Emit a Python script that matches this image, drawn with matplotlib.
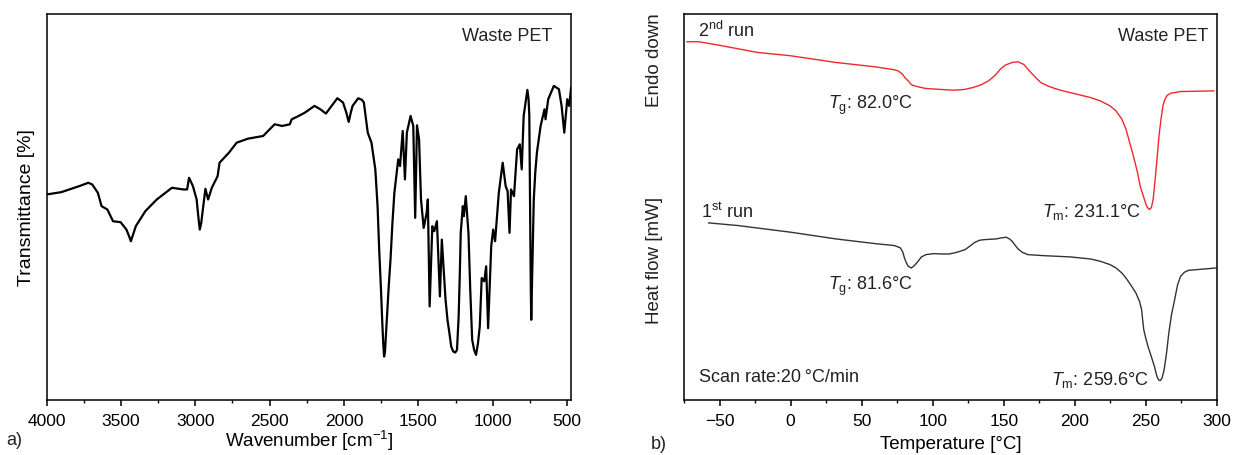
#!/usr/bin/env python3
'''FTIR spectrum and DSC thermograms of waste PET'''
import matplotlib
matplotlib.use("Agg")
import matplotlib.pyplot as plt
from matplotlib.ticker import MultipleLocator, NullLocator

plt.rcParams['font.family'] = ['Liberation Sans', 'DejaVu Sans']
plt.rcParams['mathtext.fontset'] = 'custom'
plt.rcParams['mathtext.rm'] = 'Liberation Sans'
plt.rcParams['mathtext.it'] = 'Liberation Sans:italic'
plt.rcParams['font.size'] = 12.5
plt.rcParams['axes.linewidth'] = 1.1
plt.rcParams['text.color'] = '#222222'

# FTIR spectrum (wavenumber in cm-1, transmittance in arbitrary %)
ftir_wn = [4000, 3900, 3847, 3780, 3719, 3693, 3655, 3630, 3591, 3553, 3502, 3463,
           3445, 3433, 3415, 3400, 3336, 3259, 3157, 3080, 3055, 3042, 3016, 2991,
           2980, 2970, 2960, 2952, 2932, 2914, 2889, 2850, 2837, 2774, 2722, 2646,
           2544, 2467, 2416, 2365, 2352, 2314, 2263, 2199, 2160, 2122, 2084, 2045,
           2007, 1985, 1969, 1955, 1943, 1905, 1880, 1867, 1841, 1816, 1790, 1775,
           1764, 1752, 1744, 1737, 1731, 1725, 1713, 1700, 1688, 1675, 1662, 1636,
           1624, 1606, 1591, 1578, 1553, 1535, 1522, 1510, 1496, 1483, 1465, 1445,
           1437, 1425, 1407, 1394, 1376, 1356, 1343, 1318, 1305, 1292, 1280, 1266,
           1253, 1241, 1230, 1222, 1216, 1202, 1195, 1182, 1164, 1152, 1139, 1126,
           1113, 1100, 1088, 1075, 1058, 1045, 1032, 1011, 998, 985, 960, 934,
           914, 901, 888, 878, 858, 837, 819, 806, 793, 768, 760, 755, 750,
           745, 742, 737, 730, 725, 715, 704, 679, 653, 646, 628, 590,
           556, 538, 520, 500, 487, 474]
ftir_pix = [585, 578, 570, 560, 550, 555, 580, 620, 630, 665, 668, 690,
            710, 725, 700, 680, 635, 600, 565, 570, 570, 535, 560, 600,
            650, 690, 670, 640, 568, 600, 565, 530, 490, 460, 430, 418,
            410, 375, 380, 375, 360, 352, 340, 320, 330, 343, 320, 297,
            310, 340, 368, 340, 320, 297, 302, 310, 400, 430, 510, 620,
            750, 870, 960, 1030, 1070, 1055, 960, 860, 780, 670, 580, 480,
            500, 395, 540, 400, 350, 380, 655, 378, 420, 600, 685, 640,
            600, 920, 680, 695, 665, 890, 720, 900, 960, 1000, 1040, 1055,
            1058, 1050, 950, 820, 700, 620, 650, 590, 700, 870, 1020, 1050,
            1065, 1030, 980, 835, 845, 800, 985, 740, 690, 725, 580, 490,
            560, 575, 700, 570, 590, 450, 435, 510, 350, 272, 300, 350, 600,
            870, 960, 850, 700, 600, 520, 460, 380, 330, 360, 300, 260,
            270, 320, 400, 300, 320, 265]
ftir_t = [(1200 - p) / 11.55 for p in ftir_pix]

# DSC, 2nd run (red)
run2_temp = [-72.9, -64.6, -50.8, -23.3, 0.2, 31.9, 59.4, 73.2, 76.0, 78.7, 80.5,
             82.8, 84.5, 85.6, 90.0, 95.2, 114.5, 122.0, 128.3, 134.0, 139.3, 144.0,
             147.6, 151.0, 155.9, 160.0, 164.1, 168.0, 172.4, 176.0, 180.7, 186.0,
             191.7, 211.0, 218.0, 224.8, 229.0, 233.1, 236.0, 238.6, 241.5, 244.1,
             246.0, 248.2, 250.5, 252.3, 253.8, 255.1, 256.5, 257.8, 259.2, 260.6,
             262.0, 263.4, 265.0, 267.5, 274.4, 297.8]
run2_pix = [128, 128, 138, 160, 170, 190, 203, 212, 216, 225, 236,
            245, 254, 258, 263, 268, 273, 271, 265, 257, 245, 228,
            210, 198, 190, 188, 196, 215, 235, 250, 260, 268,
            275, 295, 305, 320, 335, 360, 390, 430, 475, 520,
            560, 590, 620, 630, 625, 600, 540, 480, 410, 360,
            320, 300, 288, 282, 277, 275]

# DSC, 1st run (dark grey)
run1_temp = [-57.7, -37.0, 0.2, 31.9, 59.4, 73.2, 77.3, 79.0, 80.1, 81.5, 82.8,
             85.0, 87.0, 89.7, 92.0, 95.2, 100.7, 106.0, 111.8, 117.0, 122.8, 126.0,
             129.7, 133.0, 136.6, 144.8, 148.0, 151.7, 154.0, 155.9, 158.0, 160.0,
             163.0, 166.9, 177.9, 197.2, 211.0, 218.0, 224.8, 229.0, 233.1, 236.5,
             240.0, 243.0, 245.5, 247.0, 247.7, 248.5, 249.6, 251.5, 253.8, 256.0,
             257.8, 259.0, 260.0, 261.3, 262.8, 264.5, 266.1, 268.0, 270.2, 272.3,
             274.4, 277.0, 279.9, 290.9, 299.2]
run1_pix = [670, 678, 698, 718, 732, 738, 745, 758, 775, 790, 800,
            805, 798, 785, 772, 765, 762, 763, 763, 758, 750, 740,
            728, 722, 720, 718, 715, 713, 718, 725, 737, 748,
            758, 765, 768, 772, 778, 785, 795, 805, 820, 838,
            860, 880, 905, 930, 960, 990, 1010, 1040, 1070, 1100,
            1130, 1140, 1142, 1135, 1110, 1060, 1000, 945, 900, 855,
            830, 818, 812, 808, 805]

run2_hf = [(1200 - p) / 11.55 for p in run2_pix]
run1_hf = [(1200 - p) / 11.55 for p in run1_pix]

fig = plt.figure(figsize=(12.34, 4.56), dpi=100)
ax1 = fig.add_axes([0.0377, 0.1206, 0.4250, 0.8465])
ax2 = fig.add_axes([0.5543, 0.1206, 0.4319, 0.8465])

# a) FTIR
ax1.plot(ftir_wn, ftir_t, color='black', lw=1.6)
ax1.set_xlim(4000, 475)
ax1.set_ylim(0, 100)
ax1.xaxis.set_major_locator(MultipleLocator(500))
ax1.xaxis.set_minor_locator(MultipleLocator(250))
ax1.yaxis.set_major_locator(NullLocator())
ax1.set_xlabel('Wavenumber [cm$^{\u22121}$]', labelpad=0, fontsize=13.5)
ax1.set_ylabel('Transmittance [%]', labelpad=8, fontsize=14)
ax1.text(0.964, 0.944, 'Waste PET', transform=ax1.transAxes, ha='right', va='center',
         fontsize=13)

# b) DSC
ax2.plot(run2_temp, run2_hf, color='#f0282d', lw=1.0)
ax2.plot(run1_temp, run1_hf, color='#333333', lw=1.0)
ax2.set_xlim(-75, 300)
ax2.set_ylim(0, 100)
ax2.xaxis.set_major_locator(MultipleLocator(50))
ax2.xaxis.set_minor_locator(MultipleLocator(25))
ax2.yaxis.set_major_locator(NullLocator())
ax2.set_xlabel('Temperature [°C]', labelpad=5, fontsize=13.5)
ax2.text(-0.055, 0.883, 'Endo down', transform=ax2.transAxes, rotation=90,
         ha='center', va='center', fontsize=13.5)
ax2.text(-0.055, 0.364, 'Heat flow [mW]', transform=ax2.transAxes, rotation=90,
         ha='center', va='center', fontsize=13.5)

ann = [(0.027, 0.959, 'left', '2$^{\\mathrm{nd}}$ run'),
       (0.983, 0.945, 'right', 'Waste PET'),
       (0.270, 0.766, 'left', '$T_{\\mathrm{g}}$: 82.0°C'),
       (0.671, 0.489, 'left', '$T_{\\mathrm{m}}$: 231.1°C'),
       (0.031, 0.489, 'left', '1$^{\\mathrm{st}}$ run'),
       (0.270, 0.296, 'left', '$T_{\\mathrm{g}}$: 81.6°C'),
       (0.029, 0.061, 'left', 'Scan rate:20\u2009°C/min'),
       (0.689, 0.054, 'left', '$T_{\\mathrm{m}}$: 259.6°C')]
for x, y, ha, s in ann:
    ax2.text(x, y, s, transform=ax2.transAxes, ha=ha, va='center', fontsize=13)

for ax in (ax1, ax2):
    ax.tick_params(axis='x', which='major', direction='out', length=4.5, width=1.1, pad=5)
    ax.tick_params(axis='x', which='minor', direction='out', length=2.5, width=1.0)

fig.text(0.005, 0.035, 'a)', ha='left', va='center', fontsize=13)
fig.text(0.527, 0.025, 'b)', ha='left', va='center', fontsize=13)

fig.savefig('out.png', dpi=100)
